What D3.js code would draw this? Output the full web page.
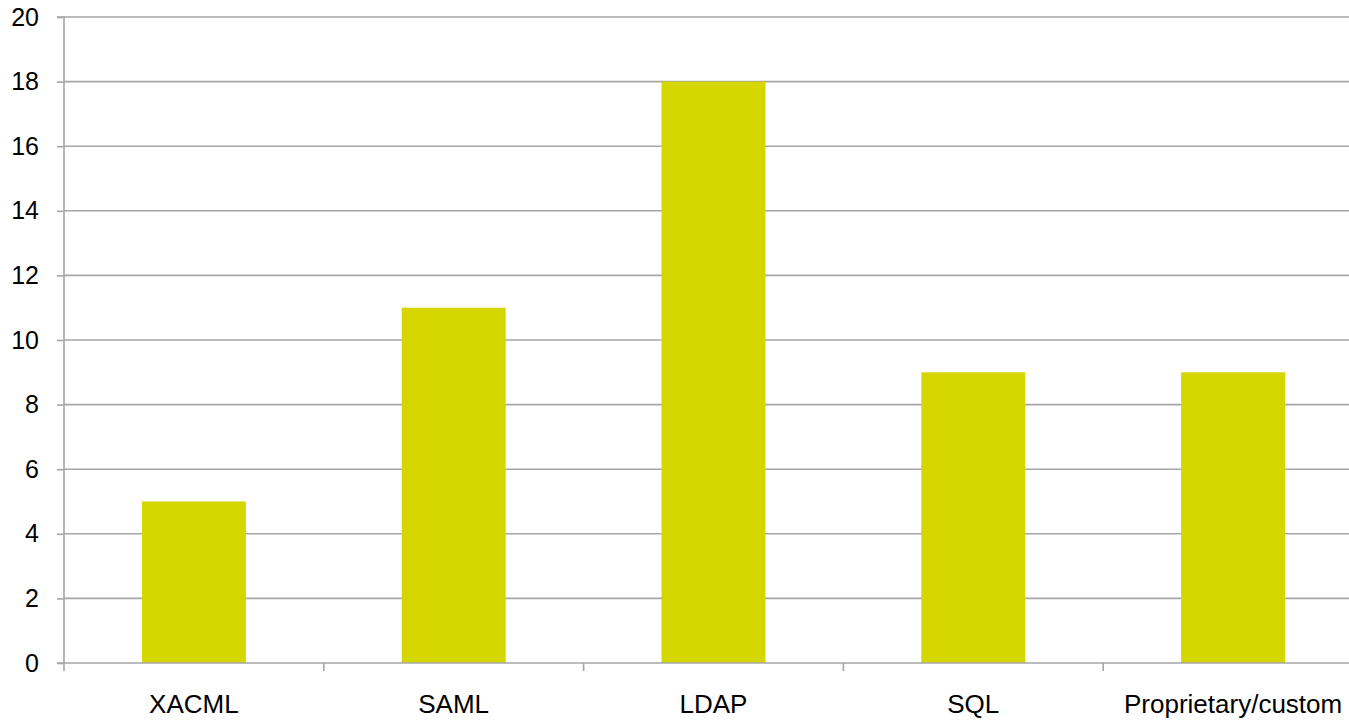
<!DOCTYPE html>
<html><head><meta charset="utf-8">
<script src="https://cdn.jsdelivr.net/npm/d3@7"></script>
<style>html,body{margin:0;padding:0;background:#fff;overflow:hidden}</style>
</head><body>
<svg id="c" width="1349" height="721"></svg>
<script>
const categories = ["XACML", "SAML", "LDAP", "SQL", "Proprietary/custom"];
const values = [5, 11, 18, 9, 9];
const yTicks = [0, 2, 4, 6, 8, 10, 12, 14, 16, 18, 20];

(function () {
const svg = d3.select("#c");
const pLeft = 64, pRight = 1363, pTop = 17, pBottom = 663;
const x = d3.scaleBand().domain(categories).range([pLeft, pRight]).paddingInner(0.6).paddingOuter(0.3);
const y = d3.scaleLinear().domain([0, 20]).range([pBottom, pTop]);
const font = "'Liberation Sans', Arial, sans-serif";
const gridColor = "#a6a6a6";

// gridlines
svg.append("g").selectAll("line").data(yTicks.filter(d => d > 0)).join("line")
  .attr("x1", pLeft).attr("x2", pRight)
  .attr("y1", d => y(d)).attr("y2", d => y(d))
  .attr("stroke", gridColor).attr("stroke-width", 1.6);

// bars
svg.append("g").selectAll("rect").data(values).join("rect")
  .attr("x", (d, i) => x(categories[i]))
  .attr("width", x.bandwidth())
  .attr("y", d => y(d))
  .attr("height", d => y(0) - y(d))
  .attr("fill", "#d5d500");

// y axis
const yAxis = d3.axisLeft(y).tickValues(yTicks).tickSize(7).tickPadding(18).tickFormat(d3.format("d"));
const gy = svg.append("g").attr("transform", `translate(${pLeft},0)`).call(yAxis);
gy.select(".domain").attr("stroke", gridColor).attr("stroke-width", 1.6).attr("d", `M-7,${pTop}H0V${pBottom}H-7`);
gy.selectAll(".tick line").attr("stroke", gridColor).attr("stroke-width", 1.6);
gy.selectAll(".tick text").attr("font-family", font).attr("font-size", 25).attr("fill", "#000");

// x axis
const step = (pRight - pLeft) / categories.length;
const gx = svg.append("g");
gx.append("line").attr("x1", pLeft).attr("x2", pRight).attr("y1", pBottom).attr("y2", pBottom)
  .attr("stroke", gridColor).attr("stroke-width", 1.6);
gx.selectAll("line.t").data(d3.range(categories.length + 1)).join("line").attr("class", "t")
  .attr("x1", i => pLeft + i * step).attr("x2", i => pLeft + i * step)
  .attr("y1", pBottom).attr("y2", pBottom + 8)
  .attr("stroke", gridColor).attr("stroke-width", 1.6);
gx.selectAll("text").data(categories).join("text")
  .attr("x", d => x(d) + x.bandwidth() / 2)
  .attr("y", 713)
  .attr("text-anchor", "middle")
  .attr("font-family", font).attr("font-size", 26).attr("fill", "#000")
  .text(d => d);
})();
</script>
</body></html>
